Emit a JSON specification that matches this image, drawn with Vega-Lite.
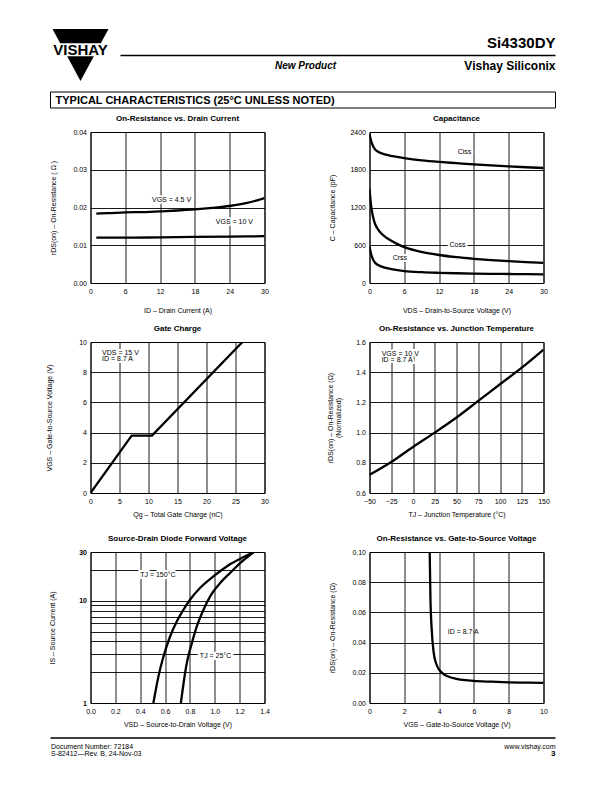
{
  "$schema": "https://vega.github.io/schema/vega-lite/v6.json",
  "background": "white",
  "padding": {"left": 44.5, "top": 28, "right": 5, "bottom": 5},
  "config": {
    "font": "Liberation Sans",
    "view": {"stroke": "black", "strokeWidth": 1},
    "axis": {"grid": true, "gridColor": "black", "gridOpacity": 1, "gridWidth": 0.9, "domain": false, "ticks": false, "tickCount": 50,
      "labelFontSize": 7, "labelColor": "black", "labelPadding": 4, "labelFlush": false, "labelOverlap": false,
      "titleFontSize": 7, "titleFontWeight": "normal", "titleColor": "black"},
    "title": {"fontSize": 8, "fontWeight": "bold", "color": "black", "frame": "group", "baseline": "bottom", "offset": 5, "anchor": "middle"},
    "line": {"color": "black", "strokeWidth": 2.3}
  },
  "concat": [
    {
      "width": 465, "height": 80,
      "view": {"stroke": null},
      "data": {"values": [{}]},
      "layer": [
        {"mark": {"type": "point", "shape": "M-1,-0.93L1,-0.93L0,0.93Z", "size": 3136, "filled": true, "fill": "black", "opacity": 1},
         "encoding": {"x": {"datum": -0.0215, "type": "quantitative", "scale": {"domain": [0, 1], "nice": false}, "axis": null},
                      "y": {"datum": 0.325, "type": "quantitative", "scale": {"domain": [0, 1], "reverse": true, "nice": false}, "axis": null}}},
        {"mark": {"type": "rect", "fill": "white"},
         "encoding": {"x": {"datum": -0.085, "type": "quantitative"}, "x2": {"datum": 0.045},
                      "y": {"datum": 0.179, "type": "quantitative"}, "y2": {"datum": 0.34}}},
        {"mark": {"type": "text", "align": "center", "baseline": "alphabetic", "fontSize": 15, "fontWeight": "bold", "fill": "black"},
         "encoding": {"x": {"datum": -0.0215, "type": "quantitative"}, "y": {"datum": 0.329, "type": "quantitative"}, "text": {"value": "VISHAY"}}},
        {"mark": {"type": "rule", "color": "black", "strokeWidth": 1.3},
         "encoding": {"x": {"datum": 0.0645, "type": "quantitative"}, "x2": {"datum": 1}, "y": {"datum": 0.331, "type": "quantitative"}}},
        {"mark": {"type": "text", "align": "right", "baseline": "alphabetic", "fontSize": 15, "fontWeight": "bold", "fill": "black"},
         "encoding": {"x": {"datum": 1, "type": "quantitative"}, "y": {"datum": 0.241, "type": "quantitative"}, "text": {"value": "Si4330DY"}}},
        {"mark": {"type": "text", "align": "center", "baseline": "alphabetic", "fontSize": 10, "fontWeight": "bold", "fontStyle": "italic", "fill": "black"},
         "encoding": {"x": {"datum": 0.4624, "type": "quantitative"}, "y": {"datum": 0.5, "type": "quantitative"}, "text": {"value": "New Product"}}},
        {"mark": {"type": "text", "align": "right", "baseline": "alphabetic", "fontSize": 12, "fontWeight": "bold", "fill": "black"},
         "encoding": {"x": {"datum": 1, "type": "quantitative"}, "y": {"datum": 0.5125, "type": "quantitative"}, "text": {"value": "Vishay Siliconix"}}},
        {"mark": {"type": "rect", "fill": "white", "stroke": "black", "strokeWidth": 1},
         "encoding": {"x": {"datum": -0.086, "type": "quantitative"}, "x2": {"datum": 1},
                      "y": {"datum": 0.7875, "type": "quantitative"}, "y2": {"datum": 0.9875}}},
        {"mark": {"type": "text", "align": "left", "baseline": "alphabetic", "fontSize": 11, "fontWeight": "bold", "fill": "black"},
         "encoding": {"x": {"datum": -0.0753, "type": "quantitative"}, "y": {"datum": 0.9413, "type": "quantitative"}, "text": {"value": "TYPICAL CHARACTERISTICS (25°C UNLESS NOTED)"}}}
      ]
    },
    {
      "columns": 2,
      "bounds": "flush",
      "spacing": {"row": 59, "column": 105},
      "concat": [
        {
          "width": 174, "height": 151,
          "title": "On-Resistance vs. Drain Current",
          "layer": [
            {"data": {"values": [
              {"vgs": "4.5 V", "id": 1, "r": 0.0184}, {"vgs": "4.5 V", "id": 3, "r": 0.0185}, {"vgs": "4.5 V", "id": 6, "r": 0.0187},
              {"vgs": "4.5 V", "id": 9, "r": 0.0188}, {"vgs": "4.5 V", "id": 12, "r": 0.019}, {"vgs": "4.5 V", "id": 15, "r": 0.0192},
              {"vgs": "4.5 V", "id": 18, "r": 0.0195}, {"vgs": "4.5 V", "id": 21, "r": 0.0199}, {"vgs": "4.5 V", "id": 24, "r": 0.0204},
              {"vgs": "4.5 V", "id": 27, "r": 0.0212}, {"vgs": "4.5 V", "id": 30, "r": 0.0225},
              {"vgs": "10 V", "id": 1, "r": 0.012}, {"vgs": "10 V", "id": 6, "r": 0.012}, {"vgs": "10 V", "id": 12, "r": 0.0121},
              {"vgs": "10 V", "id": 18, "r": 0.0122}, {"vgs": "10 V", "id": 24, "r": 0.0123}, {"vgs": "10 V", "id": 30, "r": 0.0124}
            ]},
             "mark": {"type": "line", "interpolate": "monotone", "clip": true},
             "encoding": {
               "x": {"field": "id", "type": "quantitative", "scale": {"domain": [0, 30], "nice": false},
                     "axis": {"values": [0, 6, 12, 18, 24, 30], "format": "d", "title": "ID  –  Drain Current (A)", "titlePadding": 12.5}},
               "y": {"field": "r", "type": "quantitative", "scale": {"domain": [0, 0.04], "nice": false},
                     "axis": {"values": [0, 0.01, 0.02, 0.03, 0.04], "format": ".2f", "title": "rDS(on)  –  On-Resistance ( Ω )", "titlePadding": 16}},
               "detail": {"field": "vgs"}}},
            {"data": {"values": [{"label": "VGS = 4.5 V", "id": 10.6, "r": 0.0221}, {"label": "VGS = 10 V", "id": 21.6, "r": 0.0162}]},
             "mark": {"type": "text", "align": "left", "baseline": "middle", "fontSize": 7, "fill": "white", "stroke": "white", "strokeWidth": 4},
             "encoding": {"x": {"field": "id", "type": "quantitative"}, "y": {"field": "r", "type": "quantitative"}, "text": {"field": "label"}}},
            {"data": {"values": [{"label": "VGS = 4.5 V", "id": 10.6, "r": 0.0221}, {"label": "VGS = 10 V", "id": 21.6, "r": 0.0162}]},
             "mark": {"type": "text", "align": "left", "baseline": "middle", "fontSize": 7, "fill": "black"},
             "encoding": {"x": {"field": "id", "type": "quantitative"}, "y": {"field": "r", "type": "quantitative"}, "text": {"field": "label"}}}
          ]
        },
        {
          "width": 174, "height": 151,
          "title": "Capacitance",
          "layer": [
            {"data": {"values": [
              {"s": "Ciss", "v": 0, "c": 2370}, {"s": "Ciss", "v": 0.25, "c": 2270}, {"s": "Ciss", "v": 0.5, "c": 2200}, {"s": "Ciss", "v": 1, "c": 2120},
              {"s": "Ciss", "v": 1.5, "c": 2085}, {"s": "Ciss", "v": 2, "c": 2065}, {"s": "Ciss", "v": 3, "c": 2035}, {"s": "Ciss", "v": 4, "c": 2015},
              {"s": "Ciss", "v": 6, "c": 1985}, {"s": "Ciss", "v": 9, "c": 1950}, {"s": "Ciss", "v": 12, "c": 1925}, {"s": "Ciss", "v": 15, "c": 1905},
              {"s": "Ciss", "v": 18, "c": 1885}, {"s": "Ciss", "v": 21, "c": 1868}, {"s": "Ciss", "v": 24, "c": 1853}, {"s": "Ciss", "v": 27, "c": 1840},
              {"s": "Ciss", "v": 30, "c": 1828},
              {"s": "Coss", "v": 0, "c": 1500}, {"s": "Coss", "v": 0.25, "c": 1250}, {"s": "Coss", "v": 0.5, "c": 1100}, {"s": "Coss", "v": 0.75, "c": 1000},
              {"s": "Coss", "v": 1, "c": 930}, {"s": "Coss", "v": 1.5, "c": 850}, {"s": "Coss", "v": 2, "c": 790}, {"s": "Coss", "v": 3, "c": 715},
              {"s": "Coss", "v": 4, "c": 660}, {"s": "Coss", "v": 5, "c": 610}, {"s": "Coss", "v": 6, "c": 570}, {"s": "Coss", "v": 8, "c": 515},
              {"s": "Coss", "v": 10, "c": 475}, {"s": "Coss", "v": 12, "c": 445}, {"s": "Coss", "v": 15, "c": 410}, {"s": "Coss", "v": 18, "c": 385},
              {"s": "Coss", "v": 21, "c": 365}, {"s": "Coss", "v": 24, "c": 348}, {"s": "Coss", "v": 27, "c": 333}, {"s": "Coss", "v": 30, "c": 320},
              {"s": "Crss", "v": 0, "c": 580}, {"s": "Crss", "v": 0.25, "c": 470}, {"s": "Crss", "v": 0.5, "c": 400}, {"s": "Crss", "v": 0.75, "c": 350},
              {"s": "Crss", "v": 1, "c": 320}, {"s": "Crss", "v": 1.5, "c": 285}, {"s": "Crss", "v": 2, "c": 265}, {"s": "Crss", "v": 3, "c": 235},
              {"s": "Crss", "v": 4, "c": 215}, {"s": "Crss", "v": 6, "c": 190}, {"s": "Crss", "v": 9, "c": 172}, {"s": "Crss", "v": 12, "c": 162},
              {"s": "Crss", "v": 15, "c": 155}, {"s": "Crss", "v": 18, "c": 150}, {"s": "Crss", "v": 21, "c": 146}, {"s": "Crss", "v": 24, "c": 143},
              {"s": "Crss", "v": 27, "c": 140}, {"s": "Crss", "v": 30, "c": 138}
            ]},
             "mark": {"type": "line", "interpolate": "monotone", "clip": true},
             "encoding": {
               "x": {"field": "v", "type": "quantitative", "scale": {"domain": [0, 30], "nice": false},
                     "axis": {"values": [0, 6, 12, 18, 24, 30], "format": "d", "title": "VDS  –  Drain-to-Source Voltage (V)", "titlePadding": 12.5}},
               "y": {"field": "c", "type": "quantitative", "scale": {"domain": [0, 2400], "nice": false},
                     "axis": {"values": [0, 600, 1200, 1800, 2400], "format": "d", "title": "C  –  Capacitance (pF)", "titlePadding": 14}},
               "detail": {"field": "s"}}},
            {"data": {"values": [{"label": "Ciss", "v": 15.2, "c": 2080}, {"label": "Coss", "v": 13.8, "c": 610}, {"label": "Crss", "v": 4.0, "c": 390}]},
             "mark": {"type": "text", "align": "left", "baseline": "middle", "fontSize": 7, "fill": "white", "stroke": "white", "strokeWidth": 4},
             "encoding": {"x": {"field": "v", "type": "quantitative"}, "y": {"field": "c", "type": "quantitative"}, "text": {"field": "label"}}},
            {"data": {"values": [{"label": "Ciss", "v": 15.2, "c": 2080}, {"label": "Coss", "v": 13.8, "c": 610}, {"label": "Crss", "v": 4.0, "c": 390}]},
             "mark": {"type": "text", "align": "left", "baseline": "middle", "fontSize": 7, "fill": "black"},
             "encoding": {"x": {"field": "v", "type": "quantitative"}, "y": {"field": "c", "type": "quantitative"}, "text": {"field": "label"}}}
          ]
        },
        {
          "width": 174, "height": 151,
          "title": "Gate Charge",
          "layer": [
            {"data": {"values": [{"qg": 0, "vgs": 0}, {"qg": 7.1, "vgs": 3.8}, {"qg": 10.6, "vgs": 3.8}, {"qg": 26.2, "vgs": 10}]},
             "mark": {"type": "line", "clip": true},
             "encoding": {
               "x": {"field": "qg", "type": "quantitative", "scale": {"domain": [0, 30], "nice": false},
                     "axis": {"values": [0, 5, 10, 15, 20, 25, 30], "format": "d", "title": "Qg  –  Total Gate Charge (nC)", "titlePadding": 6}},
               "y": {"field": "vgs", "type": "quantitative", "scale": {"domain": [0, 10], "nice": false},
                     "axis": {"values": [0, 2, 4, 6, 8, 10], "format": "d", "title": "VGS  –  Gate-to-Source Voltage (V)", "titlePadding": 26}}}},
            {"data": {"values": [{"label": "VDS = 15 V", "qg": 2.0, "vgs": 9.3}, {"label": "ID = 8.7 A", "qg": 2.0, "vgs": 8.85}]},
             "mark": {"type": "text", "align": "left", "baseline": "middle", "fontSize": 7, "fill": "white", "stroke": "white", "strokeWidth": 4},
             "encoding": {"x": {"field": "qg", "type": "quantitative"}, "y": {"field": "vgs", "type": "quantitative"}, "text": {"field": "label"}}},
            {"data": {"values": [{"label": "VDS = 15 V", "qg": 2.0, "vgs": 9.3}, {"label": "ID = 8.7 A", "qg": 2.0, "vgs": 8.85}]},
             "mark": {"type": "text", "align": "left", "baseline": "middle", "fontSize": 7, "fill": "black"},
             "encoding": {"x": {"field": "qg", "type": "quantitative"}, "y": {"field": "vgs", "type": "quantitative"}, "text": {"field": "label"}}}
          ]
        },
        {
          "width": 174, "height": 151,
          "title": "On-Resistance vs. Junction Temperature",
          "layer": [
            {"data": {"values": [{"tj": -50, "rn": 0.72}, {"tj": -25, "rn": 0.805}, {"tj": 0, "rn": 0.905}, {"tj": 25, "rn": 1.0}, {"tj": 50, "rn": 1.1},
              {"tj": 75, "rn": 1.21}, {"tj": 100, "rn": 1.32}, {"tj": 125, "rn": 1.43}, {"tj": 150, "rn": 1.55}]},
             "mark": {"type": "line", "interpolate": "monotone", "clip": true},
             "encoding": {
               "x": {"field": "tj", "type": "quantitative", "scale": {"domain": [-50, 150], "nice": false},
                     "axis": {"values": [-50, -25, 0, 25, 50, 75, 100, 125, 150], "format": "d", "title": "TJ – Junction Temperature (°C)", "titlePadding": 6}},
               "y": {"field": "rn", "type": "quantitative", "scale": {"domain": [0.6, 1.6], "nice": false, "zero": false},
                     "axis": {"values": [0.6, 0.8, 1.0, 1.2, 1.4, 1.6], "format": ".1f", "title": ["rDS(on)  –  On-Resistance (Ω)", "(Normalized)"], "titlePadding": 14, "titleLineHeight": 8}}}},
            {"data": {"values": [{"label": "VGS = 10 V", "tj": -36, "rn": 1.523}, {"label": "ID = 8.7 A", "tj": -36, "rn": 1.479}]},
             "mark": {"type": "text", "align": "left", "baseline": "middle", "fontSize": 7, "fill": "white", "stroke": "white", "strokeWidth": 4},
             "encoding": {"x": {"field": "tj", "type": "quantitative"}, "y": {"field": "rn", "type": "quantitative"}, "text": {"field": "label"}}},
            {"data": {"values": [{"label": "VGS = 10 V", "tj": -36, "rn": 1.523}, {"label": "ID = 8.7 A", "tj": -36, "rn": 1.479}]},
             "mark": {"type": "text", "align": "left", "baseline": "middle", "fontSize": 7, "fill": "black"},
             "encoding": {"x": {"field": "tj", "type": "quantitative"}, "y": {"field": "rn", "type": "quantitative"}, "text": {"field": "label"}}}
          ]
        },
        {
          "width": 174, "height": 151,
          "title": "Source-Drain Diode Forward Voltage",
          "layer": [
            {"data": {"values": [
              {"t": "150", "vsd": 0.506, "is": 1.0}, {"t": "150", "vsd": 0.547, "is": 1.83}, {"t": "150", "vsd": 0.592, "is": 2.98},
              {"t": "150", "vsd": 0.641, "is": 4.5}, {"t": "150", "vsd": 0.695, "is": 6.31}, {"t": "150", "vsd": 0.749, "is": 8.22},
              {"t": "150", "vsd": 0.802, "is": 10.3}, {"t": "150", "vsd": 0.883, "is": 13.4}, {"t": "150", "vsd": 0.991, "is": 17.4},
              {"t": "150", "vsd": 1.099, "is": 21.8}, {"t": "150", "vsd": 1.206, "is": 25.8}, {"t": "150", "vsd": 1.314, "is": 30},
              {"t": "25", "vsd": 0.727, "is": 1.0}, {"t": "25", "vsd": 0.749, "is": 1.57}, {"t": "25", "vsd": 0.775, "is": 2.47},
              {"t": "25", "vsd": 0.816, "is": 3.87}, {"t": "25", "vsd": 0.856, "is": 5.64}, {"t": "25", "vsd": 0.91, "is": 8.22},
              {"t": "25", "vsd": 0.964, "is": 11.1}, {"t": "25", "vsd": 1.045, "is": 15.0}, {"t": "25", "vsd": 1.125, "is": 18.8},
              {"t": "25", "vsd": 1.206, "is": 23.5}, {"t": "25", "vsd": 1.314, "is": 30}
            ]},
             "mark": {"type": "line", "interpolate": "monotone", "clip": true},
             "encoding": {
               "x": {"field": "vsd", "type": "quantitative", "scale": {"domain": [0, 1.4], "nice": false},
                     "axis": {"values": [0, 0.2, 0.4, 0.6, 0.8, 1.0, 1.2, 1.4], "format": ".1f", "title": "VSD  –  Source-to-Drain Voltage (V)", "titlePadding": 6}},
               "y": {"field": "is", "type": "quantitative", "scale": {"type": "log", "domain": [1, 30], "nice": false},
                     "axis": {"values": [1, 2, 3, 4, 5, 6, 7, 8, 9, 10, 20, 30], "labelExpr": "datum.value == 1 || datum.value == 10 || datum.value == 30 ? format(datum.value, 'd') : ''", "labelFontWeight": "bold", "title": "IS  –  Source Current (A)", "titlePadding": 23}},
               "detail": {"field": "t"}}},
            {"data": {"values": [{"label": "TJ = 150°C", "vsd": 0.40, "is": 17.7}, {"label": "TJ = 25°C", "vsd": 0.88, "is": 2.87}]},
             "mark": {"type": "text", "align": "left", "baseline": "middle", "fontSize": 7, "fill": "white", "stroke": "white", "strokeWidth": 4},
             "encoding": {"x": {"field": "vsd", "type": "quantitative"}, "y": {"field": "is", "type": "quantitative"}, "text": {"field": "label"}}},
            {"data": {"values": [{"label": "TJ = 150°C", "vsd": 0.40, "is": 17.7}, {"label": "TJ = 25°C", "vsd": 0.88, "is": 2.87}]},
             "mark": {"type": "text", "align": "left", "baseline": "middle", "fontSize": 7, "fill": "black"},
             "encoding": {"x": {"field": "vsd", "type": "quantitative"}, "y": {"field": "is", "type": "quantitative"}, "text": {"field": "label"}}}
          ]
        },
        {
          "width": 174, "height": 151,
          "title": "On-Resistance vs. Gate-to-Source Voltage",
          "layer": [
            {"data": {"values": [
              {"vgs": 3.46, "r": 0.1}, {"vgs": 3.5, "r": 0.0708}, {"vgs": 3.575, "r": 0.0487}, {"vgs": 3.69, "r": 0.0332},
              {"vgs": 3.82, "r": 0.0265}, {"vgs": 4.0, "r": 0.0221}, {"vgs": 4.25, "r": 0.0192}, {"vgs": 4.49, "r": 0.0177},
              {"vgs": 5.0, "r": 0.016}, {"vgs": 5.5, "r": 0.0151}, {"vgs": 6.0, "r": 0.0146}, {"vgs": 7.0, "r": 0.0141},
              {"vgs": 8.0, "r": 0.0137}, {"vgs": 9.0, "r": 0.0135}, {"vgs": 10, "r": 0.0133}
            ]},
             "mark": {"type": "line", "interpolate": "monotone", "clip": true},
             "encoding": {
               "x": {"field": "vgs", "type": "quantitative", "scale": {"domain": [0, 10], "nice": false},
                     "axis": {"values": [0, 2, 4, 6, 8, 10], "format": "d", "title": "VGS – Gate-to-Source Voltage (V)", "titlePadding": 6}},
               "y": {"field": "r", "type": "quantitative", "scale": {"domain": [0, 0.1], "nice": false},
                     "axis": {"values": [0, 0.02, 0.04, 0.06, 0.08, 0.1], "format": ".2f", "title": "rDS(on)  –  On-Resistance (Ω)", "titlePadding": 16}}}},
            {"data": {"values": [{"label": "ID =  8.7 A", "vgs": 4.5, "r": 0.047}]},
             "mark": {"type": "text", "align": "left", "baseline": "middle", "fontSize": 7, "fill": "black"},
             "encoding": {"x": {"field": "vgs", "type": "quantitative"}, "y": {"field": "r", "type": "quantitative"}, "text": {"field": "label"}}}
          ]
        }
      ]
    },
    {
      "width": 465, "height": 30,
      "view": {"stroke": null},
      "data": {"values": [{}]},
      "layer": [
        {"mark": {"type": "rule", "color": "black", "strokeWidth": 1.3},
         "encoding": {"x": {"datum": -0.086, "type": "quantitative", "scale": {"domain": [0, 1], "nice": false}, "axis": null}, "x2": {"datum": 1},
                      "y": {"datum": 0.167, "type": "quantitative", "scale": {"domain": [0, 1], "reverse": true, "nice": false}, "axis": null}}},
        {"mark": {"type": "text", "align": "left", "baseline": "alphabetic", "fontSize": 7, "fill": "black"},
         "encoding": {"x": {"datum": -0.085, "type": "quantitative"}, "y": {"datum": 0.517, "type": "quantitative"}, "text": {"value": "Document Number:  72184"}}},
        {"mark": {"type": "text", "align": "left", "baseline": "alphabetic", "fontSize": 7, "fill": "black"},
         "encoding": {"x": {"datum": -0.085, "type": "quantitative"}, "y": {"datum": 0.75, "type": "quantitative"}, "text": {"value": "S-82412—Rev. B, 24-Nov-03"}}},
        {"mark": {"type": "text", "align": "right", "baseline": "alphabetic", "fontSize": 7, "fill": "black"},
         "encoding": {"x": {"datum": 1, "type": "quantitative"}, "y": {"datum": 0.517, "type": "quantitative"}, "text": {"value": "www.vishay.com"}}},
        {"mark": {"type": "text", "align": "right", "baseline": "alphabetic", "fontSize": 8, "fontWeight": "bold", "fill": "black"},
         "encoding": {"x": {"datum": 1, "type": "quantitative"}, "y": {"datum": 0.75, "type": "quantitative"}, "text": {"value": "3"}}}
      ]
    }
  ],
  "columns": 1,
  "align": "none",
  "spacing": 5
}
